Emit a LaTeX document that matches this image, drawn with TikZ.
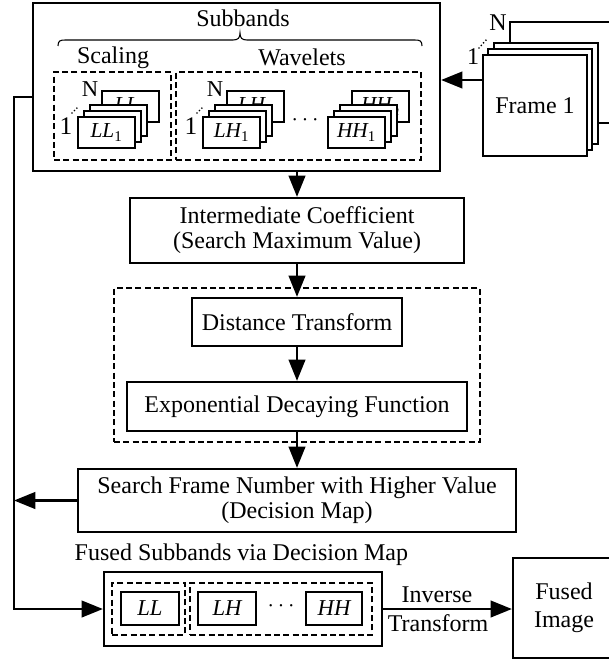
\documentclass[tikz,border=0pt]{standalone}
\usepackage{fontspec}
\setmainfont{Liberation Serif}
\usetikzlibrary{arrows.meta,fit,calc}
\newcommand\drawstk[5]{%
  \node[stk] (#1n) at (#2+52.5,#3-10.5) {};
  \node[slab] at (#1n) {\itshape #4\textsubscript{\itshape #5}};
  \node[stk] (#1c) at (#2+40.5,#3+3.5) {};
  \node[stk] (#1b) at (#2+34.5,#3+9.5) {};
  \node[stk,slab] (#1a) at (#2+28.5,#3+15.5) {\itshape #4\textsubscript{\upshape 1}};
}
\newcommand\drawidx[3]{%
  \node[font=\fontsize{17}{17}\selectfont,inner sep=0pt] (#1N) at (#2+12,#3-28) {N};
  \node[font=\fontsize{19}{19}\selectfont,inner sep=0pt] (#1one) at (#2-12,#3+9) {1};
  \draw[dots] (#2-6,#3-4) -- (#2+1,#3-11);
}
\begin{document}
\begin{tikzpicture}[x=0.75pt,y=-0.75pt,
  sbox/.style={draw,line width=1.7pt,inner sep=0pt},
  dbox/.style={draw,line width=1.4pt,dash pattern=on 4.5pt off 2.5pt,inner sep=0pt},
  arr/.style={line width=1.7pt,-{Triangle[length=16pt,width=12.5pt]}},
  txt/.style={font=\fontsize{18}{18.75}\selectfont,align=center},
  lab/.style={font=\fontsize{17}{17}\selectfont\itshape},
  slab/.style={font=\fontsize{16}{16}\selectfont},
  stk/.style={sbox,fill=white,minimum width=42.75pt,minimum height=23.25pt},
  frm/.style={sbox,fill=white,minimum width=78pt,minimum height=75.75pt},
  dots/.style={line width=1.4pt,line cap=round,dash pattern=on 0pt off 2.6pt},
]
\useasboundingbox (0,0) rectangle (608,660);

% ---- Subbands box ----
\node[sbox,fit={(33,3)(440,171)}] (sub) {};
\node[txt] (tsub) at (243,18) {Subbands};
\draw[line width=0.8pt] (58,46) .. controls (58,41) and (60,40) .. (65,40) -- (233,40)
  .. controls (238,40) and (240,38) .. (240,33)
  .. controls (240,38) and (242,40) .. (247,40) -- (415,40)
  .. controls (420,40) and (422,41) .. (422,46);
\node[txt] (tscal) at (113,58) {Scaling};
\node[txt] (twav) at (302,57) {Wavelets};
\node[dbox,fit={(54,72)(171,160)}] (dsc) {};
\node[dbox,fit={(176,72)(421,160)}] (dwv) {};
\drawstk{ll}{78}{117}{LL}{n}
\drawidx{ll}{78}{117}
\drawstk{lh}{203}{117}{LH}{n}
\drawidx{lh}{203}{117}
\drawstk{hh}{328}{117}{HH}{n}
\node[txt] (sdots) at (305,120) {$\cdots$};

% ---- Frames ----
\node[frm] (fN) at (562,72.5) {};
\node[frm] (f3) at (546,93.5) {};
\node[frm] (f2) at (540,99.5) {};
\node[frm,txt] (f1) at (535,105.5) {Frame 1};
\node[font=\fontsize{18}{18}\selectfont,inner sep=0pt] (frN) at (498,23) {N};
\node[font=\fontsize{18}{18}\selectfont,inner sep=0pt] (fr1) at (473,57) {1};
\draw[dots] (479,48) -- (487,39);
\coordinate (fa) at (483,80);
\draw[arr] (f1.west |- fa) -- (sub.east |- fa);

% ---- Pipeline ----
\node[sbox,txt,minimum width=250.5pt,minimum height=48.75pt] (inter) at (297,230.5) {Intermediate Coefficient\\(Search Maximum Value)};
\node[dbox,fit={(114,288)(480,442)}] (dsh) {};
\node[sbox,txt,minimum width=157.5pt,minimum height=36pt] (dist) at (297,322) {Distance Transform};
\node[sbox,txt,minimum width=255pt,minimum height=36.75pt] (expo) at (297,406.5) {Exponential Decaying Function};
\node[sbox,txt,minimum width=328.5pt,minimum height=47.25pt] (srch) at (297,500.5) {Search Frame Number with Higher Value\\(Decision Map)};

\draw[arr] (inter.north |- sub.south) -- (inter.north);
\draw[arr] (inter.south) -- (dist.north);
\draw[arr] (dist.south) -- (expo.north);
\draw[arr] (expo.south) -- (srch.north);

% ---- Fused ----
\node[txt,anchor=west] (tfus) at (70,555) {Fused Subbands via Decision Map};
\node[sbox,fit={(104,572)(382,646)}] (fus) {};
\node[dbox,fit={(112,583)(185,635)}] (fd1) {};
\node[dbox,fit={(190,583)(372,635)}] (fd2) {};
\node[sbox,lab,minimum width=43.5pt,minimum height=24.75pt] (fll) at (150,608.5) {LL};
\node[sbox,lab,minimum width=43.5pt,minimum height=24.75pt] (flh) at (227,608.5) {LH};
\node[sbox,lab,minimum width=42pt,minimum height=24.75pt] (fhh) at (334,608.5) {HH};
\node[txt] (fdots) at (281,606) {$\cdots$};
\node[sbox,txt,minimum width=76.5pt,minimum height=75pt] (fimg) at (564,608) {Fused\\[2pt]Image};
\draw[arr] (fus.east) -- (fus.east -| fimg.west);
\node[txt] (tinv) at (437,595) {Inverse};
\node[txt] (ttr) at (438,623) {Transform};

% ---- Feedback line ----
\coordinate (lx) at (14,97);
\draw[arr] (srch.west) -- (srch.west -| lx);
\draw[arr] (sub.west |- lx) -- (lx) -- (lx |- fus.west) -- (fus.west);
\end{tikzpicture}
\end{document}
